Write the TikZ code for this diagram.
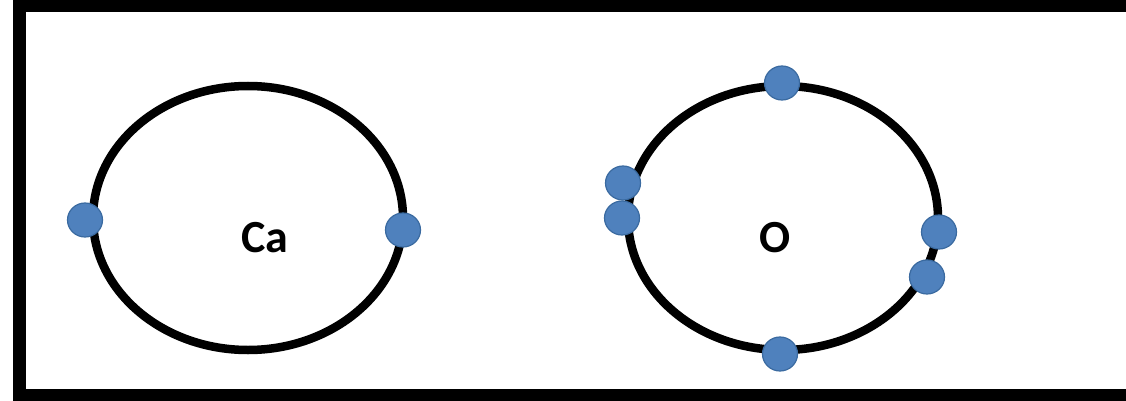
\documentclass[tikz,border=0pt]{standalone}
\usepackage{fontspec}
\setmainfont{Carlito}
\usetikzlibrary{shapes.geometric}
\definecolor{eblue}{HTML}{4F81BD}
\definecolor{eedge}{HTML}{3A6AA0}
\tikzset{
  orbit/.style={draw=black, line width=8.5pt, ellipse, minimum width=310pt, minimum height=264pt, inner sep=0pt},
  electron/.style={draw=eedge, fill=eblue, line width=1.2pt, ellipse, minimum width=35pt, minimum height=34pt, inner sep=0pt},
  label/.style={font=\fontsize{46}{52}\selectfont\bfseries, inner sep=0pt}
}
\begin{document}
\begin{tikzpicture}[x=1pt,y=-1pt]
\useasboundingbox (0,0) rectangle (1126,401);
\fill[white] (0,0) rectangle (1126,401);
\begin{scope}
\clip (0,0) rectangle (1126,401);
\draw[line width=13pt] (19,5.5) rectangle (1136,395);
\end{scope}
\node[orbit] (ca) at (248,218) {};
\node[orbit] (o) at (783,218) {};
\node[label] (catext) at (265,238) {Ca};
\node[label] (otext) at (775,238) {O};
\node[electron] (ca1) at (85,220) {};
\node[electron] (ca2) at (403,230) {};
\node[electron] (o1) at (782,83) {};
\node[electron] (o2) at (623,183) {};
\node[electron] (o3) at (622,218) {};
\node[electron] (o4) at (939,232) {};
\node[electron] (o5) at (927,277) {};
\node[electron] (o6) at (780,354) {};
\end{tikzpicture}
\end{document}
